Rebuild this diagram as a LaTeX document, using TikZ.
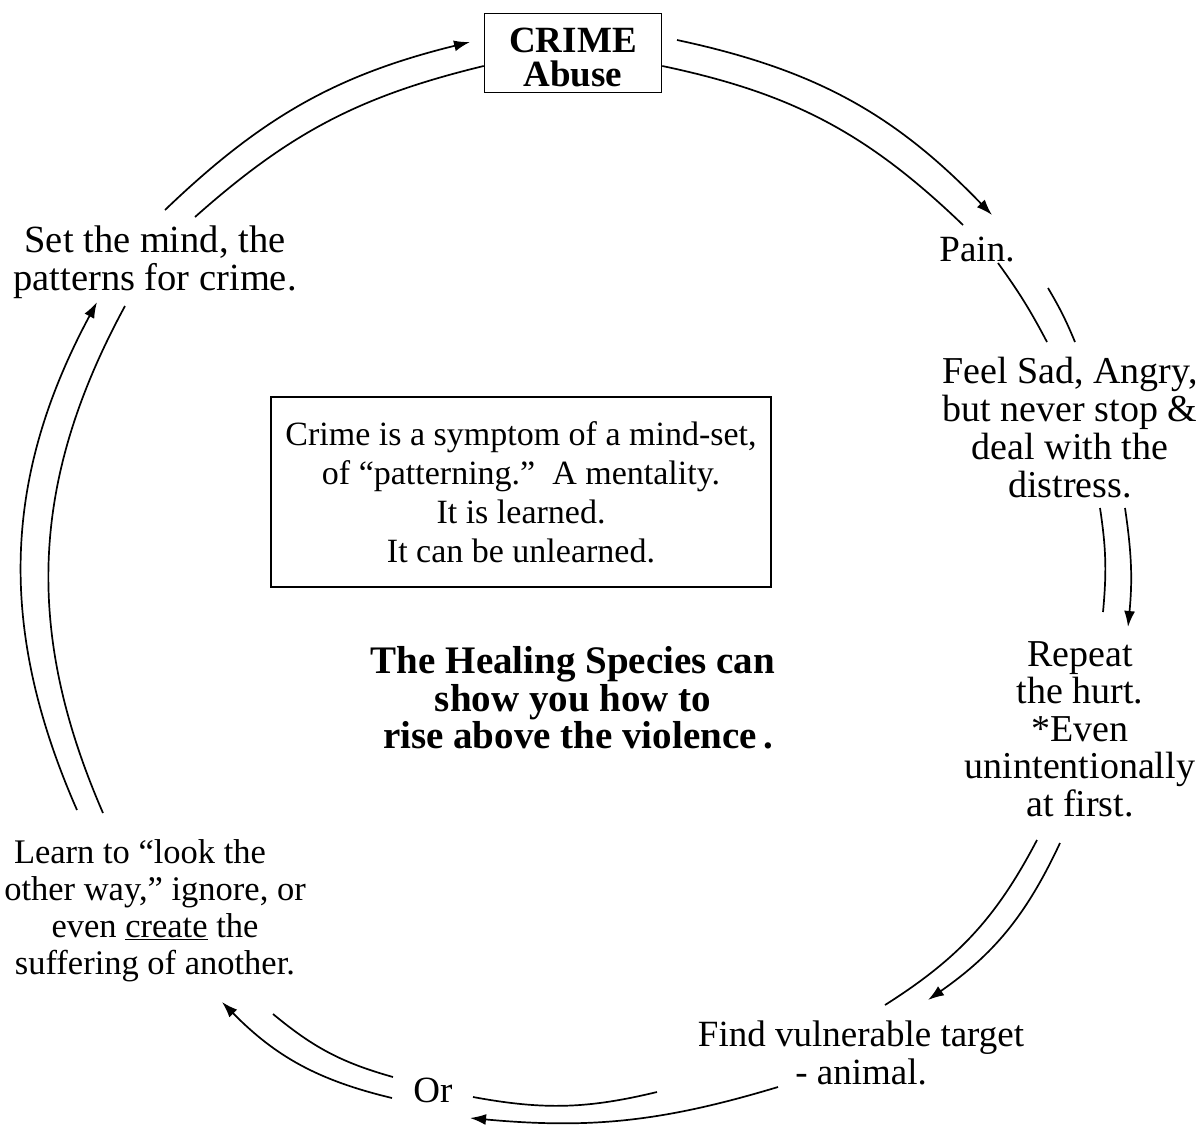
\documentclass[tikz,border=0pt]{standalone}
\usepackage{fontspec}
\setmainfont{Liberation Serif}
\usetikzlibrary{arrows.meta}

\tikzset{
  stage/.style={align=center, inner sep=0pt, font=\fontsize{37}{37.5}\selectfont},
  msgbox/.style={stage, draw, line width=1.6pt},
  flow/.style={line width=1.7pt, -{Latex[length=16pt,width=11pt]}},
  rail/.style={line width=1.7pt},
}

\begin{document}
\begin{tikzpicture}[x=1pt, y=-1pt]
  \useasboundingbox (0,0) rectangle (1203,1128);

  % the stages round the cycle
  \node[msgbox, minimum width=177, minimum height=79] (crime) at (573,53) {};
  \node[stage, font=\fontsize{37}{34}\selectfont\bfseries] (crimetext) at (573,57) {CRIME\\Abuse};
  \node[stage] (pain) at (977,250) {Pain.};
  \node[stage, font=\fontsize{38}{38}\selectfont] (feel) at (1070,428)
    {Feel Sad, Angry,\\but never stop \&\\deal with the\\distress.};
  \node[stage, font=\fontsize{38}{37.5}\selectfont] (repeat) at (1080,729)
    {Repeat\\the hurt.\\*Even\\unintentionally\\at first.};
  \node[stage] (find) at (861,1053) {Find vulnerable target\\- animal.};
  \node[stage] (or) at (433,1090) {Or};
  \node[stage, font=\fontsize{34.5}{37}\selectfont] (learn) at (155,911)
    {Learn to ``look the\kern30pt\\other way,'' ignore, or\\even \underline{create} the\\suffering of another.};
  \node[stage, font=\fontsize{38.5}{38}\selectfont] (setmind) at (155,262)
    {Set the mind, the\\patterns for crime.};

  % middle
  \node[msgbox, font=\fontsize{34}{39}\selectfont,
        minimum width=500, minimum height=190] (mindset) at (521,492)
    {Crime is a symptom of a mind-set,\\of ``patterning.''\ \ A mentality.\\It is learned.\\It can be unlearned.};
  \node[stage, font=\fontsize{39}{37.5}\selectfont\bfseries] (healing) at (573,698)
    {The Healing Species can\\show you how to\\\kern10pt rise above the violence\,.};

  % ends of the double rails
  \coordinate (a1o) at (677,40);   \coordinate (b1o) at (992,215);
  \coordinate (b1i) at (963,225);
  \coordinate (a2o) at (1048,288); \coordinate (b2o) at (1075,342);
  \coordinate (a2i) at (998,263);  \coordinate (b2i) at (1047,342);
  \coordinate (a3o) at (1125,508); \coordinate (b3o) at (1128,627);
  \coordinate (a3i) at (1100,508); \coordinate (b3i) at (1103,612);
  \coordinate (a4o) at (1060,843); \coordinate (b4o) at (928,1000);
  \coordinate (a4i) at (1037,840); \coordinate (b4i) at (885,1005);
  \coordinate (a5o) at (778,1087); \coordinate (b5o) at (470,1118);
  \coordinate (a5i) at (657,1092); \coordinate (b5i) at (473,1097);
  \coordinate (a6o) at (392,1098); \coordinate (b6o) at (222,1002);
  \coordinate (a6i) at (393,1077); \coordinate (b6i) at (273,1014);
  \coordinate (a7o) at (77,810);   \coordinate (b7o) at (97,302);
  \coordinate (a7i) at (103,813);  \coordinate (b7i) at (125,306);
  \coordinate (a8o) at (165,210);  \coordinate (b8o) at (470,42);
  \coordinate (a8i) at (195,217);

  % outer rail carries the arrow
  \draw[flow] (a1o) to[bend left=17] (b1o);
  \draw[rail] ([yshift=-13pt]crime.east) to[bend left=16] (b1i);

  \draw[rail] (a2o) to[bend left=4] (b2o);
  \draw[rail] (a2i) to[bend left=4] (b2i);

  \draw[flow] (a3o) to[bend left=7] (b3o);
  \draw[rail] (a3i) to[bend left=7] (b3i);

  \draw[flow] (a4o) to[bend left=15] (b4o);
  \draw[rail] (a4i) to[bend left=15] (b4i);

  \draw[flow] (a5o) to[bend left=11] (b5o);
  \draw[rail] (a5i) to[bend left=12] (b5i);

  \draw[flow] (a6o) to[bend left=16] (b6o);
  \draw[rail] (a6i) to[bend left=12] (b6i);

  \draw[flow] (a7o) to[bend left=26] (b7o);
  \draw[rail] (a7i) to[bend left=26] (b7i);

  \draw[flow] (a8o) to[bend left=15] (b8o);
  \draw[rail] (a8i) to[bend left=14] ([yshift=-13pt]crime.west);
\end{tikzpicture}
\end{document}
